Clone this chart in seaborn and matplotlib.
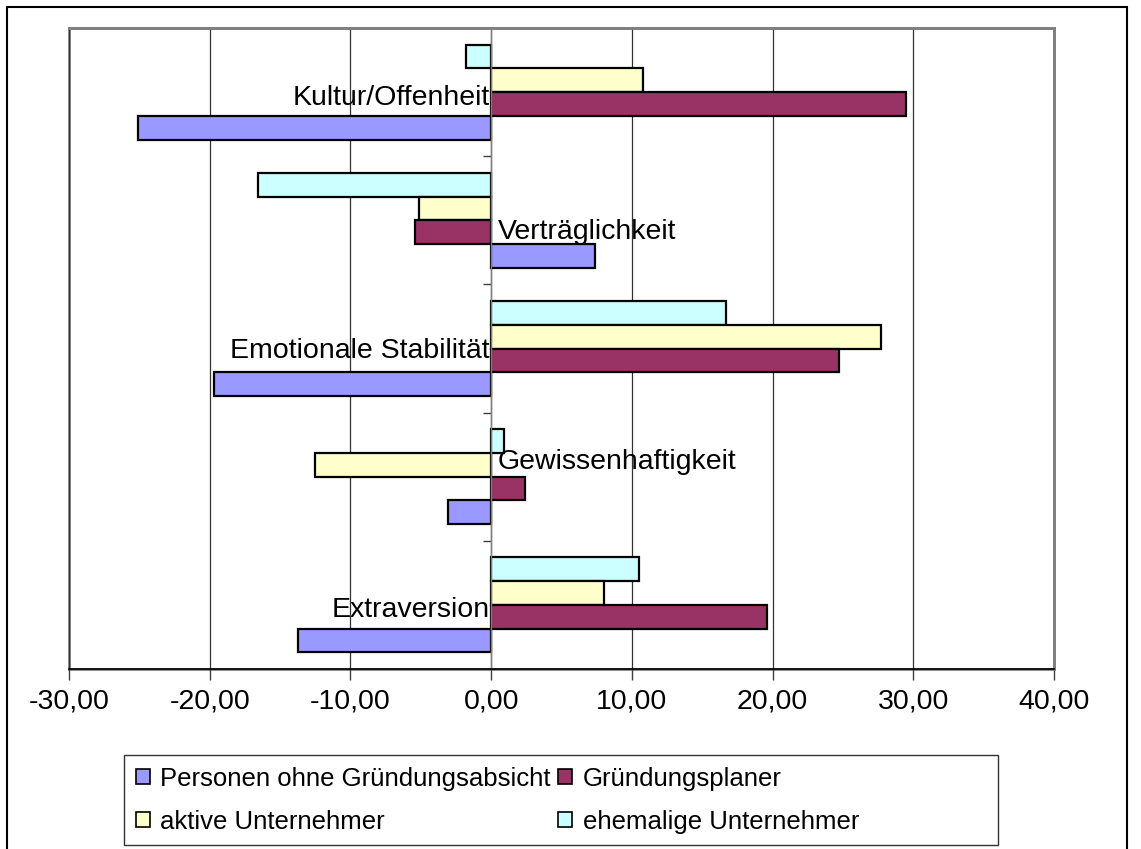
import numpy as np
import pandas as pd
import matplotlib
matplotlib.use("Agg")
import matplotlib.pyplot as plt
from matplotlib.patches import Patch, Rectangle
from matplotlib.ticker import FuncFormatter, MultipleLocator
import seaborn as sns

# Kategorien von oben nach unten
categories = ["Kultur/Offenheit", "Verträglichkeit", "Emotionale Stabilität",
              "Gewissenhaftigkeit", "Extraversion"]

# Werte je Gruppe (gleiche Reihenfolge wie categories)
ohne_absicht = [-25.1, 7.4, -19.7, -3.1, -13.7]
planer = [29.5, -5.4, 24.7, 2.4, 19.6]
aktive = [10.8, -5.1, 27.7, -12.5, 8.0]
ehemalige = [-1.8, -16.6, 16.7, 0.9, 10.5]

group_names = ["Personen ohne Gründungsabsicht", "Gründungsplaner",
               "aktive Unternehmer", "ehemalige Unternehmer"]
group_colors = ["#9999FF", "#993366", "#FFFFCC", "#CCFFFF"]

# kleine Verschiebung der Kategoriebeschriftungen (Pixel nach unten)
label_shift = [6, 12, 2, -15, 5]

W, H = 1141, 849

rows = []
for name, vals in zip(group_names, [ohne_absicht, planer, aktive, ehemalige]):
    for cat, v in zip(categories, vals):
        rows.append({"kategorie": cat, "gruppe": name, "wert": v})
df = pd.DataFrame(rows)

sns.set_theme(style="white")
plt.rcParams["font.family"] = ["Liberation Sans", "DejaVu Sans"]
plt.rcParams["text.color"] = "black"

fig = plt.figure(figsize=(W / 100, H / 100), dpi=100)
ax = fig.add_axes([69 / W, 1 - 669 / H, (1054 - 69) / W, (669 - 28) / H])

# innerhalb einer Gruppe liegt "ehemalige" oben, "Personen ohne" unten
hue_top_down = group_names[::-1]
palette = dict(zip(group_names, group_colors))
sns.barplot(data=df, x="wert", y="kategorie", hue="gruppe", order=categories,
            hue_order=hue_top_down, palette=palette, orient="h", width=0.74,
            edgecolor="black", linewidth=1.6, saturation=1, errorbar=None,
            legend=False, ax=ax, zorder=2)

ax.set_xlim(-30, 40)
ax.xaxis.set_major_locator(MultipleLocator(10))
ax.xaxis.set_major_formatter(FuncFormatter(lambda v, p: f"{v:.2f}".replace(".", ",")))
ax.grid(axis="x", color="#333333", linewidth=0.9)
ax.grid(axis="y", visible=False)
ax.set_axisbelow(True)
ax.set_xlabel("")
ax.set_ylabel("")

# Kategorieachse liegt bei x = 0, Striche zwischen den Gruppen
ax.spines["left"].set_position(("data", 0))
ax.spines["left"].set_color("#808080")
ax.spines["left"].set_linewidth(1.0)
ax.set_yticks(np.arange(len(categories) - 1) + 0.5)
ax.set_yticklabels([])
ax.tick_params(axis="y", left=True, length=6, width=1, color="#404040", direction="out")
ax.set_ylim(len(categories) - 0.5, -0.5)

for s in ["top", "right"]:
    ax.spines[s].set_color("#808080")
    ax.spines[s].set_linewidth(2)
ax.spines["bottom"].set_color("black")
ax.spines["bottom"].set_linewidth(1.2)
ax.tick_params(axis="x", bottom=True, length=8, width=1, color="#404040",
               direction="out", labelsize=20.5, pad=6, labelcolor="black")

# linker Rand der Zeichenfläche
ax.add_patch(Rectangle((0, 0), 1, 1, transform=ax.transAxes, fill=False,
                       edgecolor="#808080", linewidth=2, zorder=0.5, clip_on=False))

# Kategoriebeschriftungen neben der Nulllinie
for i, cat in enumerate(categories):
    dy = -label_shift[i] * 0.72
    if aktive[i] >= 0:
        ax.annotate(cat, (0, i), xytext=(-1, dy), textcoords="offset points",
                    ha="right", va="center", fontsize=20.5, color="black", zorder=5)
    else:
        ax.annotate(cat, (0, i), xytext=(5, dy), textcoords="offset points",
                    ha="left", va="center", fontsize=20.5, color="black", zorder=5)

# Legende: Zeile 1 Personen / Gründungsplaner, Zeile 2 aktive / ehemalige
leg_order = [0, 2, 1, 3]
handles = [Patch(facecolor=group_colors[k], edgecolor="black", linewidth=1.2,
                 label=group_names[k]) for k in leg_order]
leg = fig.legend(handles=handles, ncol=2, loc="upper left",
                 bbox_to_anchor=(124 / W, 1 - 755 / H), frameon=False, fontsize=18.5,
                 handlelength=0.55, handleheight=0.55, handletextpad=0.4,
                 columnspacing=0.3, labelspacing=0.75, borderpad=0.45, borderaxespad=0)
for t in leg.get_texts():
    t.set_color("black")
fig.add_artist(Rectangle((124 / W, 1 - 845 / H), (998 - 124) / W, 90 / H,
                         transform=fig.transFigure, fill=False,
                         edgecolor="#333333", linewidth=1))

# äußerer Rahmen
fig.add_artist(Rectangle((7 / W, -0.1), (1127 - 7) / W, 1 - 7 / H + 0.1,
                         transform=fig.transFigure, fill=False,
                         edgecolor="black", linewidth=1.5))

fig.savefig("out.png", dpi=100)
